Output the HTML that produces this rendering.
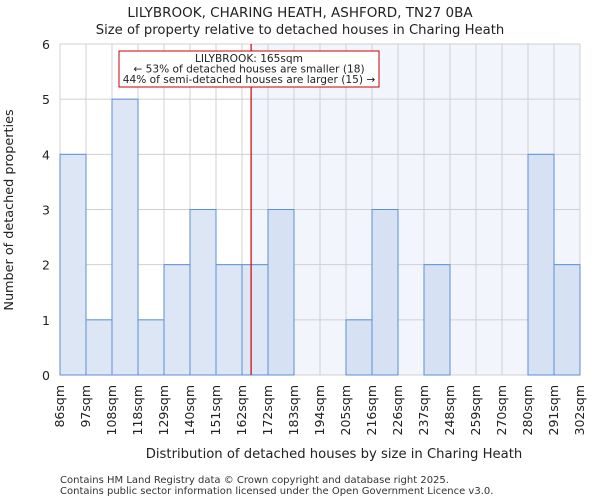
<!DOCTYPE html>
<html><head><meta charset="utf-8"><style>
body{margin:0;background:#fff;font-family:"DejaVu Sans","Liberation Sans",sans-serif;}
</style></head><body>
<svg id="c" width="600" height="500" xmlns="http://www.w3.org/2000/svg" font-family="DejaVu Sans, Liberation Sans, sans-serif">
<text x="300" y="17" text-anchor="middle" font-size="13.5" fill="#222">LILYBROOK, CHARING HEATH, ASHFORD, TN27 0BA</text>
<text x="300" y="34" text-anchor="middle" font-size="13.2" fill="#222">Size of property relative to detached houses in Charing Heath</text>
<g id="plot"></g>
<text x="334" y="458" text-anchor="middle" font-size="13.2" fill="#222">Distribution of detached houses by size in Charing Heath</text>
<text transform="translate(13,210) rotate(-90)" text-anchor="middle" font-size="12.8" fill="#222">Number of detached properties</text>
<text x="60" y="483" font-size="10" fill="#333">Contains HM Land Registry data © Crown copyright and database right 2025.</text>
<text x="60" y="494" font-size="10" fill="#333">Contains public sector information licensed under the Open Government Licence v3.0.</text>
</svg>
<script>
const categories=["86sqm","97sqm","108sqm","118sqm","129sqm","140sqm","151sqm","162sqm","172sqm","183sqm","194sqm","205sqm","216sqm","226sqm","237sqm","248sqm","259sqm","270sqm","280sqm","291sqm","302sqm"];
const counts=[4,1,5,1,2,3,2,2,3,0,0,1,3,0,2,0,0,0,4,2];
const yTicks=[0,1,2,3,4,5,6];
const markerBin=7.35;
const NS="http://www.w3.org/2000/svg";
const g=document.getElementById('plot');
const X0=60,X1=580,Y0=375,Y1=44,yMax=6;
const n=counts.length,bw=(X1-X0)/n;
const xs=i=>X0+i*bw;
const ys=v=>Y0-(v/yMax)*(Y0-Y1);
function mk(t,a){const e=document.createElementNS(NS,t);for(const k in a)e.setAttribute(k,a[k]);g.appendChild(e);return e;}
const mx=xs(markerBin);
let e=mk('rect',{x:mx,y:Y1,width:X1-mx,height:Y0-Y1,fill:'#f2f5fc'});


for(let i=0;i<=n;i++){e=mk('line',{x1:xs(i),x2:xs(i),y1:Y1,y2:Y0,stroke:'#d0d0d0','stroke-width':1});

}
yTicks.forEach(t=>{e=mk('line',{x1:X0,x2:X1,y1:ys(t),y2:ys(t),stroke:'#d0d0d0','stroke-width':1});


const tx=mk('text',{x:X0-10,y:ys(t)+5,'text-anchor':'end','font-size':12.5,fill:'#222'});tx.textContent=t;

});
counts.forEach((v,i)=>{if(v<=0)return;const r=mk('rect',{x:xs(i),y:ys(v),width:bw,height:Y0-ys(v),fill:i>=markerBin-0.01?'#d6e2f4':'#dce6f4',stroke:'#5b8fd6','stroke-width':1});

});
categories.forEach((c,i)=>{const x=xs(i);const t=mk('text',{transform:`translate(${x+4},${Y0+10}) rotate(-90)`,'text-anchor':'end','font-size':12.5,fill:'#222'});t.textContent=c;

});
e=mk('line',{x1:mx,x2:mx,y1:Y1,y2:Y0,stroke:'#cc0000','stroke-width':1.2});


e=mk('rect',{x:119,y:51,width:260,height:36,fill:'#fff',stroke:'#cc0000','stroke-width':1});


["LILYBROOK: 165sqm","← 53% of detached houses are smaller (18)","44% of semi-detached houses are larger (15) →"].forEach((s,k)=>{const t=mk('text',{x:249,y:62+k*10.5,'text-anchor':'middle','font-size':10.6,fill:'#222'});t.textContent=s;

});
</script>
</body></html>
